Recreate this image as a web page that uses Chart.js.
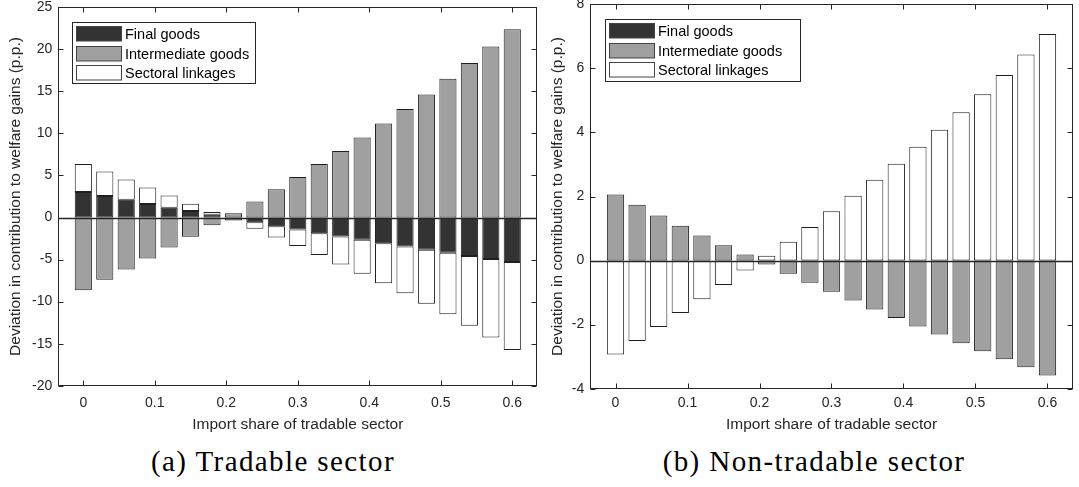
<!DOCTYPE html>
<html>
<head>
<meta charset="utf-8">
<script src="https://cdn.jsdelivr.net/npm/chart.js@4"></script>
<style>
  body { margin: 0; width: 1079px; height: 487px; background: #fff; position: relative; overflow: hidden; }
  canvas { position: absolute; top: 0; }
  #chartTrad { left: 0; }
  #chartNon { left: 540px; }
  .caption {
    position: absolute; top: 445px;
    font-family: "Liberation Serif", serif; font-size: 29px; letter-spacing: 1.4px;
    color: #000; white-space: nowrap; transform: translateX(-50%);
  }
</style>
</head>
<body>
<canvas id="chartTrad" width="545" height="440"></canvas>
<canvas id="chartNon" width="539" height="440"></canvas>
<div class="caption" style="left:273px">(a) Tradable sector</div>
<div class="caption" style="left:814px">(b) Non-tradable sector</div>
<script>
// import share of the tradable sector (x positions of the bars)
const shares = [0, 0.03, 0.06, 0.09, 0.12, 0.15, 0.18, 0.21, 0.24, 0.27, 0.30,
                0.33, 0.36, 0.39, 0.42, 0.45, 0.48, 0.51, 0.54, 0.57, 0.60];
const xTicks = [0, 0.1, 0.2, 0.3, 0.4, 0.5, 0.6];
const seriesNames = ["Final goods", "Intermediate goods", "Sectoral linkages"];

// (a) tradable sector
const tradFinal = [3.05, 2.57, 2.10, 1.62, 1.15, 0.77, 0.32, -0.10, -0.55, -1.03, -1.42,
                   -1.86, -2.25, -2.65, -3.05, -3.44, -3.84, -4.19, -4.59, -4.94, -5.30];
const tradInter = [-8.66, -7.40, -6.17, -4.87, -3.56, -2.29, -0.91, 0.50, 1.90, 3.36, 4.83,
                   6.37, 7.91, 9.53, 11.19, 12.90, 14.64, 16.50, 18.39, 20.33, 22.39];
const tradLink = [3.32, 2.89, 2.41, 1.94, 1.46, 0.86, 0.34, -0.25, -0.79, -1.34, -1.98,
                  -2.61, -3.33, -4.04, -4.78, -5.58, -6.41, -7.32, -8.27, -9.34, -10.44];
const tradYTicks = [-20, -15, -10, -5, 0, 5, 10, 15, 20, 25];

// (b) non-tradable sector
const nonFinal = [0, 0, 0, 0, 0, 0, 0, 0, 0, 0, 0, 0, 0, 0, 0, 0, 0, 0, 0, 0, 0];
const nonInter = [2.06, 1.74, 1.41, 1.09, 0.78, 0.48, 0.19, -0.12, -0.41, -0.69, -0.97,
                  -1.25, -1.53, -1.79, -2.06, -2.31, -2.58, -2.83, -3.08, -3.33, -3.59];
const nonLink = [-2.93, -2.51, -2.07, -1.64, -1.21, -0.76, -0.31, 0.15, 0.59, 1.05, 1.54,
                 2.02, 2.52, 3.02, 3.55, 4.08, 4.63, 5.19, 5.79, 6.43, 7.07];
const nonYTicks = [-4, -2, 0, 2, 4, 6, 8];

const fills = ["#333333", "#a0a0a0", "#ffffff"];
const ink = "#262626";
const sans = "'Liberation Sans', Arial, sans-serif";

// matlab style box, inward ticks, zero line and legend
const matlabFrame = {
  id: "matlabFrame",
  afterDatasetsDraw(chart, args, opts) {
    const { ctx, chartArea: a, scales: { x, y } } = chart;
    const L = Math.round(a.left) + 0.5, R = Math.round(a.right) - 0.5;
    const T = Math.round(a.top) + 0.5, B = Math.round(a.bottom) - 0.5;
    ctx.save();
    ctx.strokeStyle = ink;
    ctx.lineWidth = 1;
    const line = (x1, y1, x2, y2) => { ctx.beginPath(); ctx.moveTo(x1, y1); ctx.lineTo(x2, y2); ctx.stroke(); };

    const y0 = Math.round(y.getPixelForValue(0)) + 0.5;
    ctx.lineWidth = 1.3;
    line(L, y0, R, y0);
    ctx.lineWidth = 1;

    ctx.strokeRect(L, T, R - L, B - T);
    const len = 5;
    x.ticks.forEach(t => {
      const px = Math.round(x.getPixelForValue(t.value)) + 0.5;
      line(px, B, px, B - len);
      line(px, T, px, T + len);
    });
    y.ticks.forEach(t => {
      const py = Math.round(y.getPixelForValue(t.value)) + 0.5;
      line(L, py, L + len, py);
      line(R, py, R - len, py);
    });

    // legend box
    const bx = a.left + opts.dx, by = a.top + opts.dy;
    ctx.fillStyle = "#fff";
    ctx.fillRect(bx, by, opts.w, opts.h);
    ctx.strokeRect(Math.round(bx) + 0.5, Math.round(by) + 0.5, opts.w, opts.h);
    ctx.font = "14.5px " + sans;
    ctx.textBaseline = "middle";
    chart.data.datasets.forEach((ds, i) => {
      const sx = Math.round(bx + 4) + 0.5, sy = Math.round(by + 4 + i * 19.5) + 0.5;
      ctx.fillStyle = ds.backgroundColor;
      ctx.fillRect(sx, sy, 45, 14.5);
      ctx.strokeStyle = "#444";
      ctx.strokeRect(sx, sy, 45, 14.5);
      ctx.fillStyle = "#000";
      ctx.fillText(ds.label, sx + 48.5, sy + 8);
    });
    ctx.restore();
  }
};

function makeChart(id, final, inter, link, yTicks, lay) {
  const series = [final, inter, link];
  return new Chart(document.getElementById(id), {
    type: "bar",
    data: {
      datasets: series.map((vals, k) => ({
        label: seriesNames[k],
        data: vals.map((v, i) => ({ x: shares[i], y: v })),
        backgroundColor: fills[k]
      }))
    },
    options: {
      responsive: false,
      animation: false,
      layout: { padding: lay.pad },
      datasets: {
        bar: { barPercentage: 0.8, categoryPercentage: 1, borderWidth: 1, borderColor: "#1f1f1f", borderSkipped: false }
      },
      plugins: {
        legend: { display: false },
        tooltip: { enabled: false },
        matlabFrame: lay.legend
      },
      scales: {
        x: {
          type: "linear", stacked: true, offset: false,
          min: -0.035, max: 0.635,
          afterBuildTicks: s => { s.ticks = xTicks.map(v => ({ value: v })); },
          afterFit: s => { s.height = lay.xHeight; },
          grid: { display: false, drawTicks: false },
          border: { display: false },
          ticks: { color: ink, font: { family: sans, size: 14 }, padding: lay.xTickPad, maxRotation: 0, autoSkip: false, callback: v => String(v) },
          title: { display: true, text: "Import share of tradable sector", color: ink, font: { family: sans, size: 15.5 }, padding: { top: 0, bottom: 5.7 } }
        },
        y: {
          stacked: true,
          min: yTicks[0], max: yTicks[yTicks.length - 1],
          afterBuildTicks: s => { s.ticks = yTicks.map(v => ({ value: v })); },
          afterFit: s => { s.width = lay.yWidth; s.paddingTop = 0; s.paddingBottom = 0; },
          grid: { display: false, drawTicks: false },
          border: { display: false },
          ticks: { color: ink, font: { family: sans, size: 14 }, padding: 6 },
          title: { display: true, text: "Deviation in contribution to welfare gains (p.p.)", color: ink, font: { family: sans, size: 15.5 }, padding: { top: lay.yTitlePad, bottom: 0 } }
        }
      }
    },
    plugins: [matlabFrame]
  });
}

makeChart("chartTrad", tradFinal, tradInter, tradLink, tradYTicks, {
  pad: { top: 7.3, right: 7.7, left: 0, bottom: 0 },
  xHeight: 54.3, yWidth: 58.3, xTickPad: 9.2, yTitlePad: 6.3,
  legend: { dx: 13.7, dy: 14.7, w: 183, h: 61 }
});
makeChart("chartNon", nonFinal, nonInter, nonLink, nonYTicks, {
  pad: { top: 4.3, right: 6.3, left: 0, bottom: 0 },
  xHeight: 51.3, yWidth: 50.3, xTickPad: 6, yTitlePad: 8.7,
  legend: { dx: 14.7, dy: 14.7, w: 195, h: 62 }
});
</script>
</body>
</html>
